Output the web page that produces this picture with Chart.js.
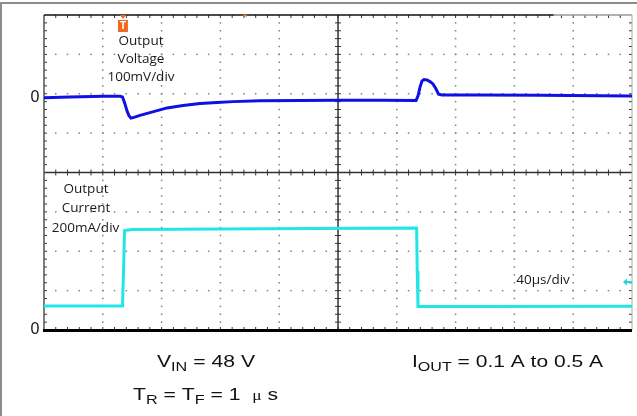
<!DOCTYPE html>
<html>
<head>
<meta charset="utf-8">
<script src="https://cdn.jsdelivr.net/npm/chart.js@4.4.1/dist/chart.umd.min.js"></script>
<style>
  html, body { margin: 0; padding: 0; background: #fff; }
  #wrap { width: 637px; height: 416px; }
</style>
</head>
<body>
<div id="wrap"><canvas id="scope" width="637" height="416"></canvas></div>
<script>
// output voltage trace (time in µs, deviation in mV)
const timeV = [0, 17.7, 40.1, 51.7, 53.4, 55.1, 56.5, 57.8, 59.2, 61.2, 65.3, 72.1, 83.7, 94.6, 106.1,
    117.7, 128.6, 146.9, 174.1, 200, 228.6, 253.1, 254.4, 255.8, 257.1, 258.5, 260.5, 262.6, 264.6,
    266.7, 268.4, 270.8, 296.6, 337.4, 378.2, 400];
const voltageMv = [0, 2, 3.5, 3.5, 2, -16, -34, -46, -52, -50, -45, -38, -26, -20, -15,
    -12, -10, -8, -7, -6.6, -6.6, -7, 4, 27, 42, 46, 45, 41, 35,
    22, 9, 7, 7, 6, 5, 4];

// output current trace (time in µs, current in A)
const timeI = [0, 53.4, 54.1, 54.8, 60, 150, 253.5, 253.9, 254.4, 300, 400];
const currentA = [0.122, 0.122, 0.3, 0.505, 0.511, 0.514, 0.518, 0.3, 0.12, 0.12, 0.121];

const xDivs = 10;
const yDivs = 8;
const timePerDiv = 40;    // µs/div
const voltPerDiv = 100;   // mV/div
const ampPerDiv = 0.2;    // A/div
const voltAtTop = 210;    // mV at the top edge of the screen
const triggerTime = 53.7; // µs
const triggerLevelA = 0.244;

const toPoints = (xs, ys) => xs.map((x, i) => ({ x: x, y: ys[i] }));

const scopeGrid = {
    id: 'scopeGrid',
    beforeDatasetsDraw(chart) {
        const { ctx, chartArea: a } = chart;
        const dx = (a.right - a.left) / xDivs;
        const dy = (a.bottom - a.top) / yDivs;
        const cx = a.left + dx * xDivs / 2;
        const cy = a.top + dy * yDivs / 2;
        ctx.save();

        // outer window frame
        ctx.fillStyle = '#8c8c8c';
        ctx.fillRect(0, 2, 637, 2);
        ctx.fillRect(0, 2, 2, 414);

        // dotted graticule
        ctx.fillStyle = '#808080';
        for (let i = 1; i < xDivs; i++) {
            if (i === xDivs / 2) continue;
            const x = a.left + i * dx;
            for (let j = 1; j < yDivs * 5; j++) {
                ctx.fillRect(x - 0.75, a.top + j * dy / 5 - 0.75, 1.5, 1.5);
            }
        }
        for (let j = 1; j < yDivs; j++) {
            if (j === yDivs / 2) continue;
            const y = a.top + j * dy;
            for (let i = 1; i < xDivs * 5; i++) {
                ctx.fillRect(a.left + i * dx / 5 - 0.75, y - 0.75, 1.5, 1.5);
            }
        }

        // center cross with minor ticks
        ctx.strokeStyle = '#333';
        ctx.lineWidth = 1.5;
        ctx.beginPath();
        ctx.moveTo(cx, a.top); ctx.lineTo(cx, a.bottom);
        ctx.moveTo(a.left, cy); ctx.lineTo(a.right, cy);
        ctx.stroke();
        ctx.lineWidth = 1;
        ctx.beginPath();
        for (let j = 1; j < yDivs * 5; j++) {
            const y = a.top + j * dy / 5;
            ctx.moveTo(cx - 3, y); ctx.lineTo(cx + 3, y);
            ctx.moveTo(a.left, y); ctx.lineTo(a.left + 3, y);
            ctx.moveTo(a.right, y); ctx.lineTo(a.right - 3, y);
        }
        for (let i = 1; i < xDivs * 5; i++) {
            const x = a.left + i * dx / 5;
            ctx.moveTo(x, cy - 3); ctx.lineTo(x, cy + 3);
            ctx.moveTo(x, a.top); ctx.lineTo(x, a.top + 3);
            ctx.moveTo(x, a.bottom); ctx.lineTo(x, a.bottom - 3);
        }
        ctx.stroke();

        // screen border
        ctx.strokeStyle = '#555';
        ctx.lineWidth = 1.5;
        ctx.beginPath();
        ctx.moveTo(a.left, a.top); ctx.lineTo(a.left, a.bottom);
        ctx.stroke();
        ctx.strokeStyle = '#aaa';
        ctx.lineWidth = 1;
        ctx.beginPath();
        ctx.moveTo(a.right, a.top); ctx.lineTo(a.right, a.bottom);
        ctx.stroke();
        const recEnd = a.left + (a.right - a.left) * 0.867;
        ctx.strokeStyle = '#111';
        ctx.lineWidth = 1.5;
        ctx.beginPath();
        ctx.moveTo(a.left, a.top); ctx.lineTo(recEnd, a.top);
        ctx.stroke();
        ctx.strokeStyle = '#999';
        ctx.beginPath();
        ctx.moveTo(recEnd, a.top); ctx.lineTo(a.right, a.top);
        ctx.stroke();
        ctx.strokeStyle = '#000';
        ctx.lineWidth = 3;
        ctx.beginPath();
        ctx.moveTo(a.left - 1, a.bottom + 0.5); ctx.lineTo(a.right, a.bottom + 0.5);
        ctx.stroke();
        ctx.restore();
    }
};

function drawRich(ctx, x, baseline, runs, width) {
    let w = 0;
    runs.forEach(r => { ctx.font = r[1]; w += ctx.measureText(r[0]).width; });
    ctx.save();
    ctx.translate(x, baseline);
    ctx.scale(width / w, 1);
    let px = 0;
    runs.forEach(r => {
        ctx.font = r[1];
        ctx.fillText(r[0], px, r[2] || 0);
        px += ctx.measureText(r[0]).width;
    });
    ctx.restore();
}

const scopeText = {
    id: 'scopeText',
    afterDatasetsDraw(chart) {
        const { ctx, chartArea: a, scales } = chart;
        ctx.save();
        ctx.fillStyle = '#1a1a1a';
        ctx.textAlign = 'center';
        ctx.textBaseline = 'middle';
        ctx.font = '13.5px "Open Sans", sans-serif';
        [['Output', 141, 41], ['Voltage', 141, 59], ['100mV/div', 141, 77.5],
         ['Output', 86, 189], ['Current', 86, 208], ['200mA/div', 85.5, 228],
         ['40µs/div', 543, 280]].forEach(t => ctx.fillText(t[0], t[1], t[2]));

        ctx.fillStyle = '#111';
        ctx.font = '16px "Liberation Sans", Arial, sans-serif';
        ctx.fillText('0', 35, scales.yV.getPixelForValue(0));
        ctx.fillText('0', 35, scales.yI.getPixelForValue(0));

        // trigger marker
        const tx = scales.x.getPixelForValue(triggerTime);
        ctx.fillStyle = '#ec6a22';
        ctx.beginPath();
        ctx.moveTo(tx - 3, a.top); ctx.lineTo(tx + 3, a.top); ctx.lineTo(tx, a.top + 4);
        ctx.fill();
        ctx.fillRect(tx - 5, a.top + 5, 10, 12);
        ctx.fillRect(243, a.top - 0.5, 4, 2);
        ctx.fillStyle = '#fff';
        ctx.font = 'bold 10px "Liberation Sans", Arial, sans-serif';
        ctx.fillText('T', tx, a.top + 11.5);

        // trigger level arrow
        const ly = scales.yI.getPixelForValue(triggerLevelA);
        ctx.fillStyle = '#1fd8d8';
        ctx.beginPath();
        ctx.moveTo(a.right - 9, ly); ctx.lineTo(a.right - 5, ly - 3.5); ctx.lineTo(a.right - 5, ly + 3.5);
        ctx.fill();
        ctx.fillRect(a.right - 6, ly - 1, 6, 2);

        // test conditions
        ctx.fillStyle = '#111';
        ctx.textAlign = 'left';
        ctx.textBaseline = 'alphabetic';
        const main = '17px "Liberation Sans", Arial, sans-serif';
        const sub = '13px "Liberation Sans", Arial, sans-serif';
        const serif = '14px "Liberation Serif", serif';
        drawRich(ctx, 157, 367, [['V', main], ['IN', sub, 4], [' = 48 V', main]], 98);
        drawRich(ctx, 133, 399.5, [['T', main], ['R', sub, 4], [' = T', main], ['F', sub, 4],
            [' = 1  ', main], ['\u03bc', serif], [' s', main]], 145);
        drawRich(ctx, 412, 367, [['I', main], ['OUT', sub, 4], [' = 0.1 A to 0.5 A', main]], 191);
        ctx.restore();
    }
};

new Chart(document.getElementById('scope'), {
    type: 'line',
    data: {
        datasets: [
            {
                label: 'Output Voltage',
                data: toPoints(timeV, voltageMv),
                yAxisID: 'yV',
                borderColor: '#1010e4',
                borderWidth: 3,
                pointRadius: 0,
                tension: 0
            },
            {
                label: 'Output Current',
                data: toPoints(timeI, currentA),
                yAxisID: 'yI',
                borderColor: '#22e6e6',
                borderWidth: 3,
                pointRadius: 0,
                tension: 0
            }
        ]
    },
    options: {
        responsive: false,
        animation: false,
        devicePixelRatio: 1,
        layout: { padding: { left: 44, right: 5, top: 15, bottom: 86 } },
        plugins: { legend: { display: false }, tooltip: { enabled: false } },
        scales: {
            x: { type: 'linear', min: 0, max: xDivs * timePerDiv, display: false },
            yV: { type: 'linear', min: voltAtTop - yDivs * voltPerDiv, max: voltAtTop, display: false },
            yI: { type: 'linear', min: 0, max: yDivs * ampPerDiv, display: false }
        }
    },
    plugins: [scopeGrid, scopeText]
});
</script>
</body>
</html>
